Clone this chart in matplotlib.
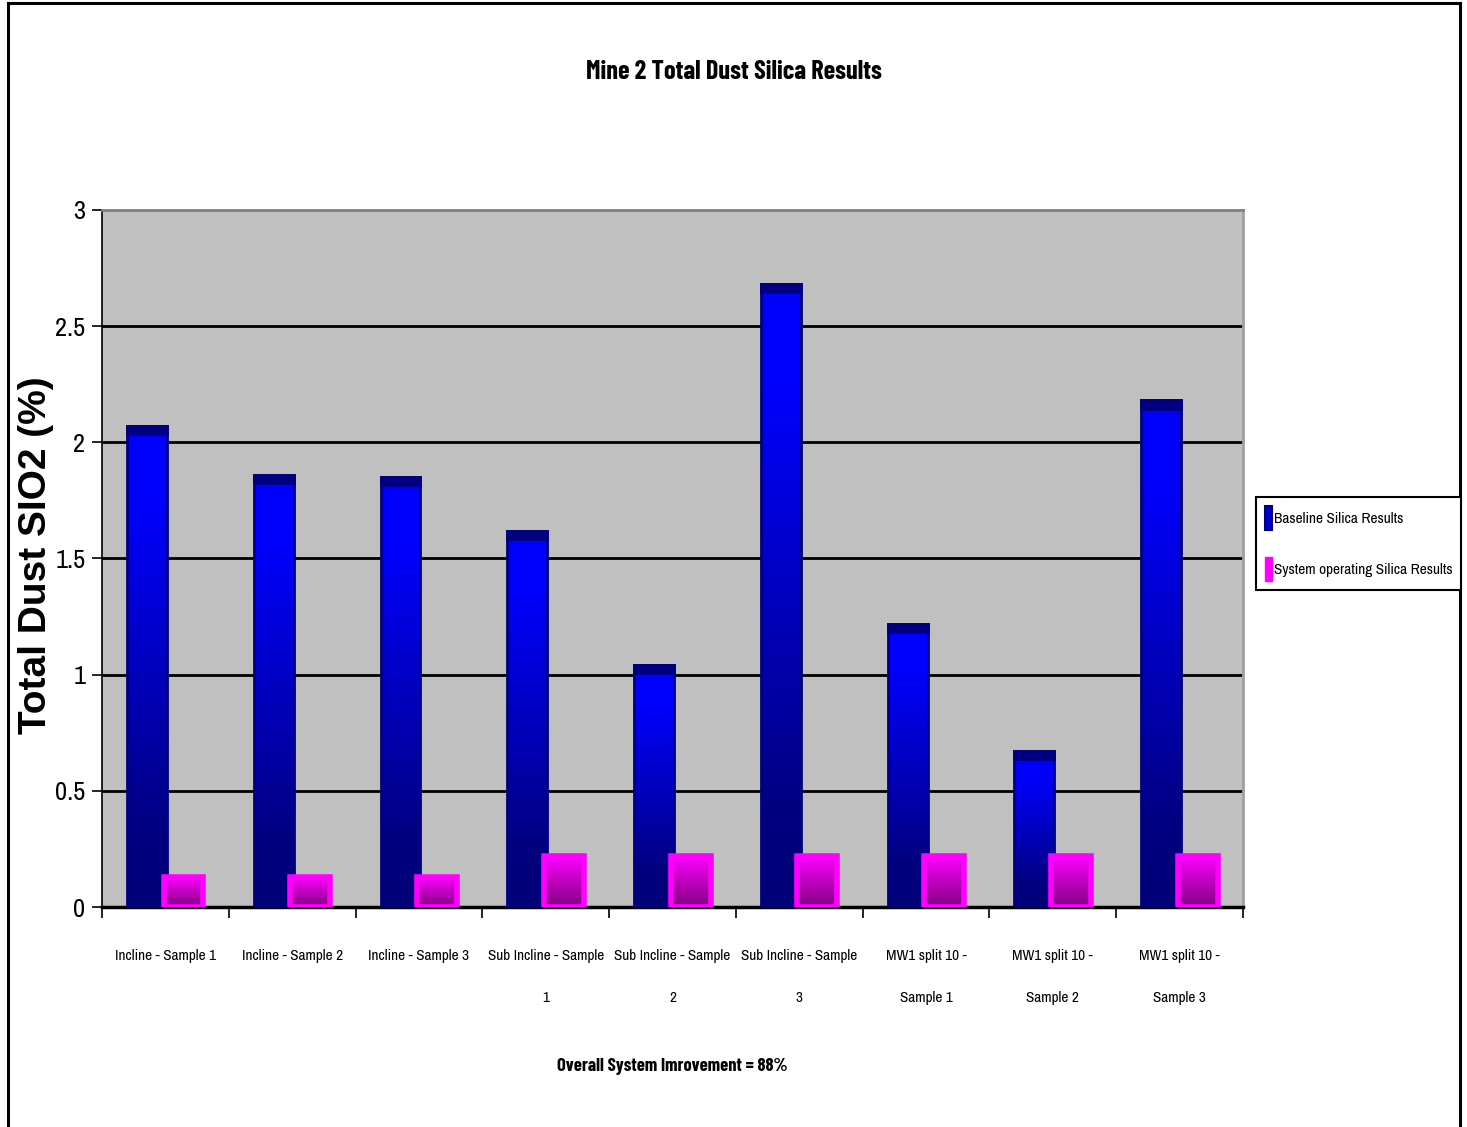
import numpy as np
import matplotlib
matplotlib.use('Agg')
import matplotlib.pyplot as plt
from matplotlib.colors import LinearSegmentedColormap
from matplotlib.patches import Patch
from matplotlib.lines import Line2D

# Chart data
categories = ['Incline - Sample 1', 'Incline - Sample 2', 'Incline - Sample 3',
              'Sub Incline - Sample\n1', 'Sub Incline - Sample\n2', 'Sub Incline - Sample\n3',
              'MW1 split 10 -\nSample 1', 'MW1 split 10 -\nSample 2', 'MW1 split 10 -\nSample 3']
baseline = [2.07, 1.86, 1.85, 1.62, 1.04, 2.68, 1.22, 0.67, 2.18]
system_op = [0.13, 0.13, 0.13, 0.22, 0.22, 0.22, 0.22, 0.22, 0.22]
yticks = [0, 0.5, 1, 1.5, 2, 2.5, 3]
ytick_labels = ['0', '0.5', '1', '1.5', '2', '2.5', '3']

narrow = ['Archivo Narrow', 'Liberation Sans', 'DejaVu Sans']
narrow_bold = ['Barlow Condensed', 'Liberation Sans', 'DejaVu Sans']

fig = plt.figure(figsize=(14.67, 11.27), dpi=100)
ax = fig.add_axes([0.0695, 0.1952, 0.7778, 0.6185])
ax.set_facecolor('#c0c0c0')

x = np.arange(len(categories)) + 0.5
w = 0.315

blue_cmap = LinearSegmentedColormap.from_list('blu', [(0, '#000078'), (0.15, '#000080'), (0.85, '#0000ff'), (1, '#0000ff')])
pink_cmap = LinearSegmentedColormap.from_list('pnk', ['#800080', '#ff00ff'])
grad = np.linspace(0, 1, 256).reshape(-1, 1)


def shade(bars, cmap, z):
    for b in bars:
        x0, y0 = b.get_xy()
        im = ax.imshow(grad, extent=(x0, x0 + b.get_width(), y0, y0 + b.get_height()),
                       origin='lower', cmap=cmap, aspect='auto', zorder=z, interpolation='bilinear')
        im.set_clip_path(b)


# baseline bars (blue gradient, navy cap)
b1 = ax.bar(x - 0.145, baseline, w, facecolor='none', edgecolor='#000080', linewidth=2, zorder=3)
shade(b1, blue_cmap, 2.9)
cap = 0.035
ax.bar(x - 0.145, [cap] * len(baseline), w, bottom=np.array(baseline) - cap,
       color='#000080', edgecolor='#000080', linewidth=2, zorder=3.1)

# system operating bars (magenta border, purple gradient)
b2 = ax.bar(x + 0.143, system_op, w, facecolor='none', edgecolor='#ff00ff', linewidth=4, zorder=3.5)
shade(b2, pink_cmap, 3.4)

ax.set_xlim(0, len(categories))
ax.set_ylim(0, 3)

# grid lines
for yv in yticks[1:-1]:
    ax.axhline(yv, color='black', linewidth=2, zorder=1)

ax.spines['top'].set_color('#808080')
ax.spines['right'].set_color('#a0a0a0')
ax.spines['top'].set_linewidth(2)
ax.spines['right'].set_linewidth(2)
ax.spines['left'].set_color('black')
ax.spines['left'].set_linewidth(1.2)
ax.spines['bottom'].set_color('black')
ax.spines['bottom'].set_linewidth(2.5)

ax.set_yticks(yticks)
ax.set_yticklabels(ytick_labels, family=narrow, fontsize=19)
ax.tick_params(axis='y', direction='out', length=7, width=1.2, pad=5)

ax.set_xticks(np.arange(len(categories) + 1))
ax.set_xticklabels([])
ax.tick_params(axis='x', which='major', direction='out', length=8, width=1.2)
ax.set_xticks(x, minor=True)
ax.set_xticklabels(categories, minor=True, family=narrow, fontsize=11)
ax.tick_params(axis='x', which='minor', length=0, pad=30)
for lab in ax.get_xticklabels(minor=True):
    lab.set_linespacing(3.6)

fig.text(0.5003, 0.936, 'Mine 2 Total Dust Silica Results', ha='center', va='center',
         family=narrow_bold, fontsize=19, fontweight='bold')
fig.text(0.4584, 0.054, 'Overall System Imrovement = 88%', ha='center', va='center',
         family=narrow_bold, fontsize=13.3, fontweight='bold')
fig.text(0.0245, 0.507, 'Total Dust SIO2 (%)', rotation=90, ha='center', va='center',
         family=['Liberation Sans', 'DejaVu Sans'], fontsize=28, fontweight='bold')

handles = [Patch(facecolor='#0000c0', edgecolor='#000080', linewidth=1.5),
           Patch(facecolor='#ff00ff', edgecolor='#ff00ff')]
leg = fig.legend(handles, ['Baseline Silica Results', 'System operating Silica Results'],
                 loc='upper left', bbox_to_anchor=(0.856, 0.559),
                 prop={'family': narrow, 'size': 11},
                 handlelength=0.45, handleheight=2.0, handletextpad=0.12,
                 labelspacing=1.8, borderpad=0.6, borderaxespad=0,
                 fancybox=False, framealpha=1)
leg.get_frame().set_edgecolor('black')
leg.get_frame().set_linewidth(1.5)

# outer chart border
fig.add_artist(Line2D([0.0055, 0.0055], [0, 0.997], color='black', linewidth=2.2))
fig.add_artist(Line2D([0.0055, 0.9952], [0.997, 0.997], color='black', linewidth=2.2))
fig.add_artist(Line2D([0.9952, 0.9952], [0, 0.997], color='black', linewidth=2.2))

fig.savefig('out.png', dpi=100)
